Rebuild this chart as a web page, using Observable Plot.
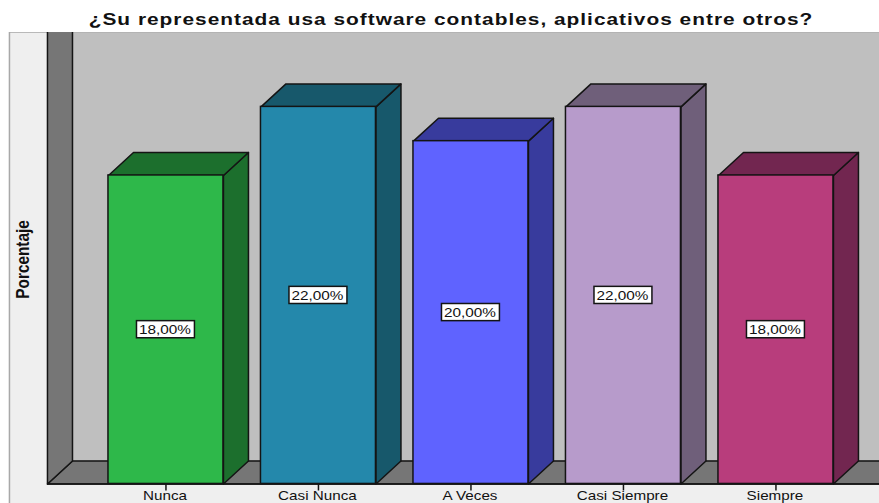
<!DOCTYPE html>
<html><head><meta charset="utf-8">
<script src="https://cdn.jsdelivr.net/npm/d3@7"></script>
<script src="https://cdn.jsdelivr.net/npm/@observablehq/plot@0.6"></script>
<style>
html,body{margin:0;padding:0;background:#fff;overflow:hidden}
#title{height:32px;width:879px;position:relative;overflow:hidden}
#title span{position:absolute;left:451px;top:10px;transform:translateX(-50%) scaleX(1.25);font:bold 16.7px/20px "Liberation Sans",Arial,sans-serif;letter-spacing:.8px;color:#111;white-space:nowrap}
svg{display:block}
</style></head><body>
<div id="title"><span>¿Su representada usa software contables, aplicativos entre otros?</span></div>
<div id="chart"></div>
<script>
const categories = ["Nunca","Casi Nunca","A Veces","Casi Siempre","Siempre"];
const values = [18,22,20,22,18];
const labels = ["18,00%","22,00%","20,00%","22,00%","18,00%"];
const yTitle = "Porcentaje";
const frontColors = ["#2eb84a","#2488ab","#5f63ff","#b79bcb","#b83d7c"];
const shadeColors = ["#1c6f2d","#17586b","#383b9d","#6f5f7a","#722650"];

const halfBar = 0.377, dX = 0.164, dY = 1.34;
const xMin = -1.085, xMax = 4.679, yMin = -1.14, yMax = 26.34;
const wallL = -0.777, wallR = wallL + dX, frameL = -1.023;
const ink = "#141414", wall = "#767676";
const indices = d3.range(categories.length);

const polys = [];
const poly = (id, fill, pts) => pts.forEach(([x,y]) => polys.push({id, fill, x, y}));
values.forEach((v,i) => {
  const a = i-halfBar, b = i+halfBar;
  poly("s"+i, shadeColors[i], [[b,0],[b+dX,dY],[b+dX,v+dY],[b,v],[b,0]]);
  poly("t"+i, shadeColors[i], [[a,v],[a+dX,v+dY],[b+dX,v+dY],[b,v],[a,v]]);
});
const shell = [];
const shellPoly = (id, fill, pts) => pts.forEach(([x,y]) => shell.push({id, fill, x, y}));
shellPoly("floor", wall, [[wallL,0],[wallR,dY],[xMax+1,dY],[xMax+1,0],[wallL,0]]);
shellPoly("left", wall, [[wallL,0],[wallR,dY],[wallR,yMax+1],[wallL,yMax+1],[wallL,0]]);

const bars = values.map((v,i)=>({i,v,label:labels[i],x1:i-halfBar,x2:i+halfBar,fill:frontColors[i]}));
const font = "Liberation Sans, Arial, sans-serif";

const plot = Plot.plot({
  width: 879, height: 471,
  marginTop:0, marginBottom:0, marginLeft:0, marginRight:0,
  style:{background:"#fff", overflow:"hidden"},
  x:{domain:[xMin,xMax], range:[0,879], axis:null},
  y:{domain:[yMin,yMax], range:[471,0], axis:null},
  marks:[
    Plot.rect([{}],{x1:frameL,x2:xMax+1,y1:yMin-2,y2:yMax,fill:"#efefef",stroke:"#a8a8a8",strokeWidth:1.5}),
    Plot.rect([{}],{x1:wallR,x2:xMax+1,y1:dY,y2:yMax,fill:"#bfbfbf",stroke:"#a8a8a8",strokeWidth:1}),
    Plot.line(shell,{x:"x",y:"y",z:"id",fill:"fill",stroke:ink,strokeWidth:1.5,curve:"linear"}),
    Plot.line(polys,{x:"x",y:"y",z:"id",fill:"fill",stroke:ink,strokeWidth:1.5,curve:"linear"}),
    Plot.rect(bars,{x1:"x1",x2:"x2",y1:0,y2:"v",fill:"fill",stroke:ink,strokeWidth:1.5}),
    Plot.ruleY([0],{x1:wallL,x2:xMax,stroke:ink,strokeWidth:1.5}),
    Plot.ruleX(indices,{x:d=>d,y1:0,y2:-0.41,stroke:ink,strokeWidth:1.5}),
    Plot.text(indices,{x:d=>d,y:-0.41,dx:-1,dy:5,text:d=>categories[d],fontSize:12,fontFamily:font,fill:"#111"}),
    Plot.rect(bars,{x1:d=>d.i-0.19,x2:d=>d.i+0.19,y1:d=>d.v/2-0.5,y2:d=>d.v/2+0.5,fill:"#fff",stroke:ink,strokeWidth:1.5}),
    Plot.text(bars,{x:"i",y:d=>d.v/2,dx:-1,text:"label",fontSize:13,fontFamily:font,fill:"#111"}),
    Plot.text([yTitle],{x:-0.94,y:13.1,rotate:-90,text:d=>d,fontSize:18.5,fontWeight:"bold",fontFamily:font,fill:"#111"})
  ]
});
document.getElementById("chart").append(plot);
d3.select(plot).selectAll("text").attr("transform", function(){
  const t = this.textContent;
  const sx = t === yTitle ? 0.83 : labels.includes(t) ? 1.18 : 1.27;
  return (this.getAttribute("transform")||"") + ` scale(${sx},1)`;
});
</script>
</body></html>
